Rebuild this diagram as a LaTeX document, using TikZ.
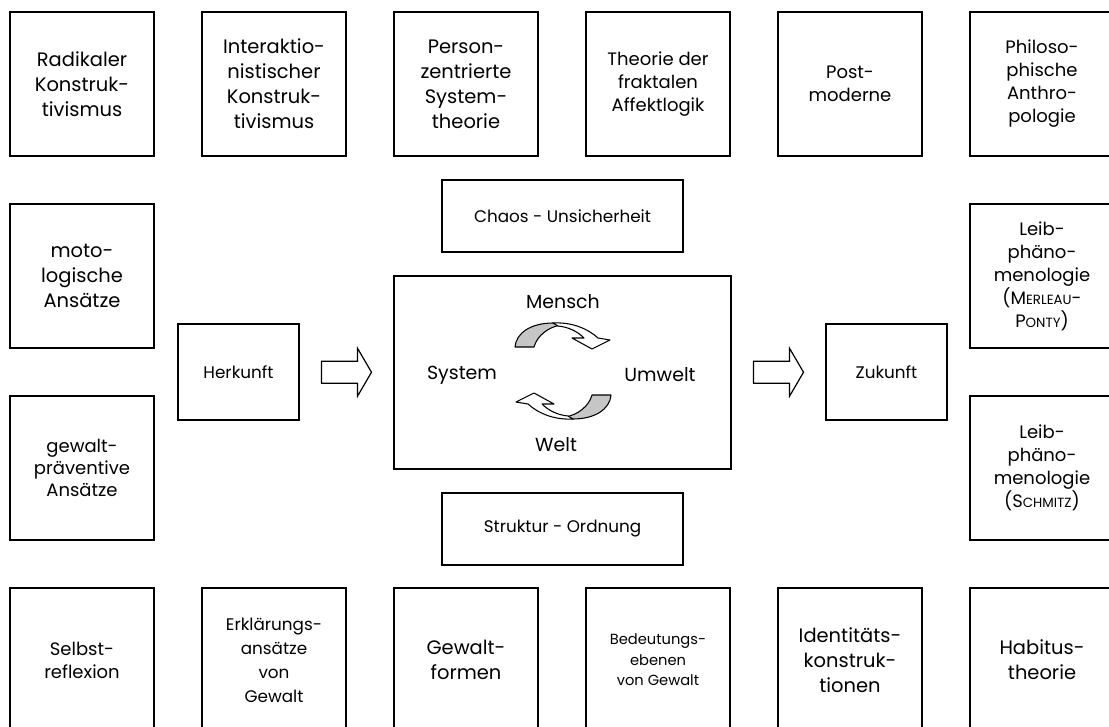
\documentclass[tikz,border=0pt]{standalone}
\usepackage{fontspec}
\setmainfont{Poppins}
\usetikzlibrary{calc}
\newcommand{\smcap}[1]{{\fontsize{10pt}{12pt}\selectfont #1}}
\tikzset{
  frame/.style={draw, rectangle, line width=1.1pt, inner sep=0pt, align=center},
  sq/.style={frame, minimum width=108pt, minimum height=108pt},
  big/.style={font={\fontsize{14.6pt}{18.75pt}\selectfont}},
  med/.style={font={\fontsize{13.5pt}{17.25pt}\selectfont}},
  medtight/.style={font={\fontsize{13.5pt}{16.2pt}\selectfont}},
  sml/.style={font={\fontsize{12.6pt}{18pt}\selectfont}},
  tiny/.style={font={\fontsize{11pt}{15.4pt}\selectfont}},
  lab/.style={font={\fontsize{14.2pt}{17pt}\selectfont}, inner sep=0pt},
  smallbox/.style={frame, sml, minimum width=90.75pt, minimum height=72pt},
  widebox/.style={frame, sml, minimum width=180.75pt, minimum height=54pt},
  blockarrow/.style={draw, fill=white, line width=0.9pt, line join=miter},
  backband/.style={draw, fill=gray!45, line width=0.8pt, line join=round},
  frontband/.style={draw, fill=white, line width=0.8pt, line join=round}
}
\begin{document}
\begin{tikzpicture}[x=0.75pt, y=-0.75pt]
\useasboundingbox (0,0) rectangle (1109,727);
\clip (0,0) rectangle (1109,727);
\fill[white] (0,0) rectangle (1109,727);

% top row
\node[sq,big] (radikal)  at (82,84)  {Radikaler\\Konstruk-\\tivismus};
\node[sq,big] (interakt) at (274,84) {Interaktio-\\nistischer\\Konstruk-\\tivismus};
\node[sq,big] (person)   at (466,84) {Person-\\zentrierte\\System-\\theorie};
\node[sq,med] (fraktal)  at (658,84) {Theorie der\\fraktalen\\Affektlogik};
\node[sq,med] (postmod)  at (850,84) {Post-\\moderne};
\node[sq,med] (philo)    at (1042,84) {Philoso-\\phische\\Anthro-\\pologie};

% left column
\node[sq,big] (moto)       at (82,276) {moto-\\logische\\Ansätze};
\node[sq,medtight] (praev) at (82,468) {gewalt-\\präventive\\Ansätze};

% right column
\node[sq,med] (merleau) at (1042,276) {Leib-\\phäno-\\menologie\\(M\smcap{ERLEAU}-\\P\smcap{ONTY})};
\node[sq,med] (schmitz) at (1042,468) {Leib-\\phäno-\\menologie\\(S\smcap{CHMITZ})};

% bottom row
\node[sq,med]  (selbst)   at (82,660)  {Selbst-\\reflexion};
\node[sq,sml]  (erkl)     at (274,660) {Erklärungs-\\ansätze\\von\\Gewalt};
\node[sq,big]  (formen)   at (466,660) {Gewalt-\\formen};
\node[sq,tiny] (bedeut)   at (658,660) {Bedeutungs-\\ebenen\\von Gewalt};
\node[sq,big]  (ident)    at (850,660) {Identitäts-\\konstruk-\\tionen};
\node[sq,big]  (habitus)  at (1042,660) {Habitus-\\theorie};

% middle
\node[smallbox] (herkunft) at (238.5,372) {Herkunft};
\node[smallbox] (zukunft)  at (886.5,372) {Zukunft};
\node[frame, minimum width=252.75pt, minimum height=144.75pt] (center) at (562.5,372.5) {};
\node[widebox] (chaos)    at (562.5,216) {Chaos - Unsicherheit};
\node[widebox] (struktur) at (562.5,529) {Struktur - Ordnung};

\node[lab] (mensch) at (563,302) {Mensch};
\node[lab] (system) at (462,375) {System};
\node[lab] (umwelt) at (660,375) {Umwelt};
\node[lab] (welt)   at (556,445) {Welt};

% block arrows
\coordinate (la) at ($(herkunft.east)!0.5!(center.west)$);
\coordinate (ra) at ($(center.east)!0.5!(zukunft.west)$);
\draw[blockarrow, shift={(la)}] (-25,-11) -- (11,-11) -- (11,-24) -- (25,0) -- (11,24) -- (11,11) -- (-25,11) -- cycle;
\draw[blockarrow, shift={(ra)}] (-25,-11) -- (11,-11) -- (11,-24) -- (25,0) -- (11,24) -- (11,11) -- (-25,11) -- cycle;

% circular arrows
\draw[backband] (515,347) .. controls (516,333) and (531,323) .. (553,323) -- (561,325) .. controls (548,327) and (537,336) .. (534,347) -- cycle;
\draw[frontband] (553,323) .. controls (571,322) and (587,328) .. (598,338) -- (610,340) -- (592,349) -- (572,338) -- (584,338) .. controls (577,331) and (568,327) .. (558,326) -- cycle;
\begin{scope}[rotate around={180:(563,371)}]
\draw[backband] (515,347) .. controls (516,333) and (531,323) .. (553,323) -- (561,325) .. controls (548,327) and (537,336) .. (534,347) -- cycle;
\draw[frontband] (553,323) .. controls (571,322) and (587,328) .. (598,338) -- (610,340) -- (592,349) -- (572,338) -- (584,338) .. controls (577,331) and (568,327) .. (558,326) -- cycle;
\end{scope}
\end{tikzpicture}
\end{document}
